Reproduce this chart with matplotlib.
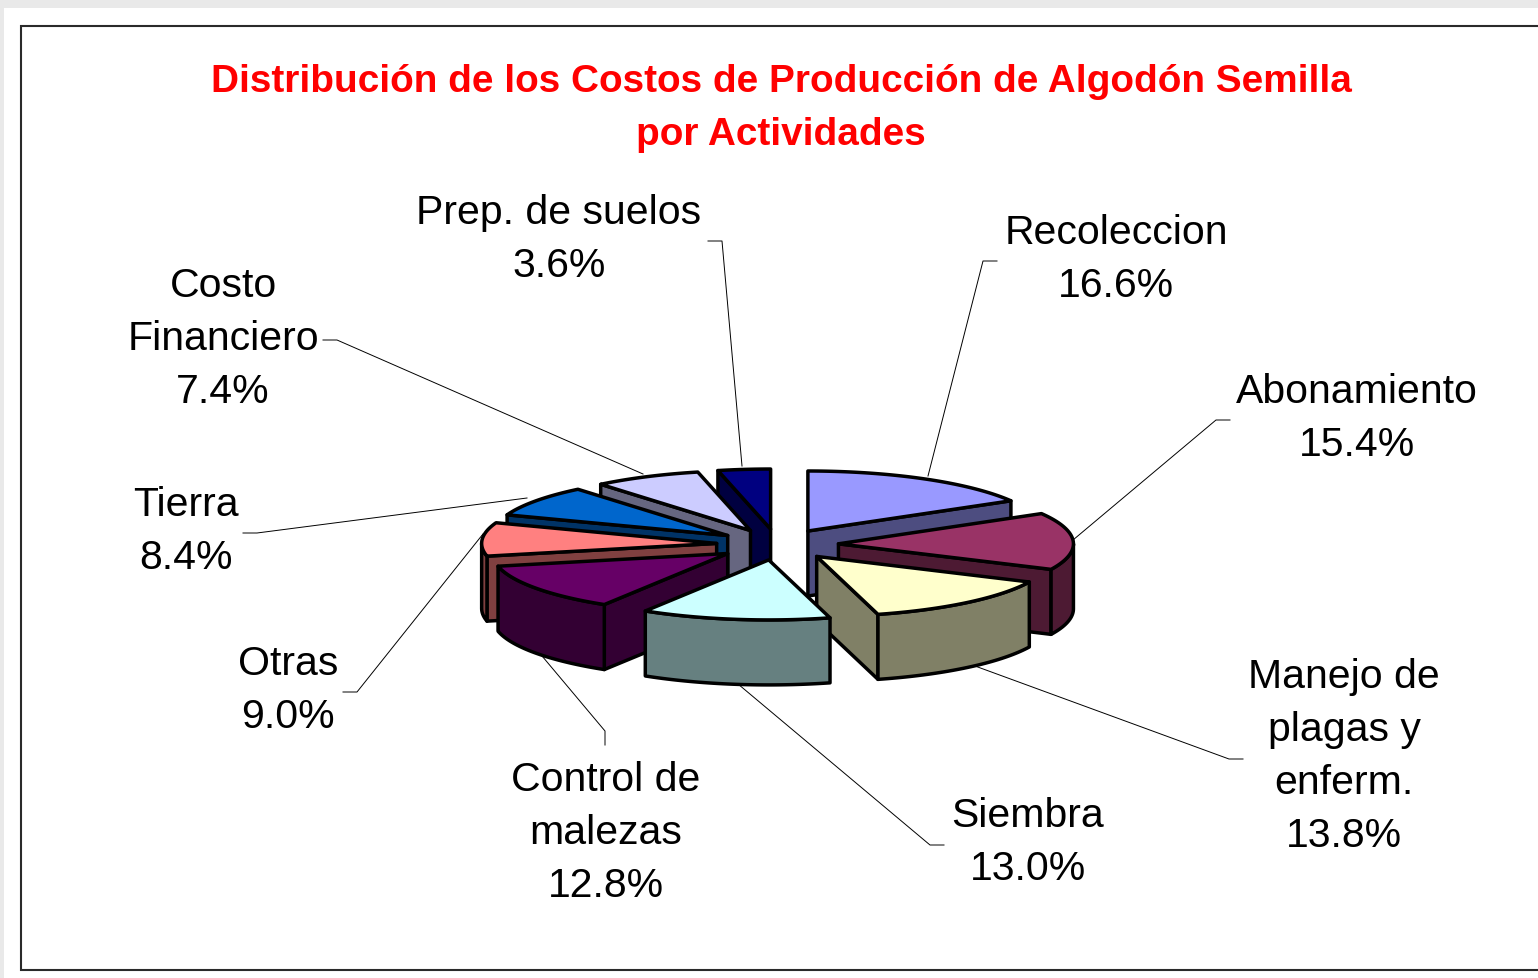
import numpy as np
import matplotlib
matplotlib.use("Agg")
import matplotlib.pyplot as plt
from matplotlib.patches import Polygon, Rectangle

# ---- data ----
names = ["Recoleccion", "Abonamiento", "Manejo de\nplagas y\nenferm.", "Siembra",
         "Control de\nmalezas", "Otras", "Tierra", "Costo\nFinanciero", "Prep. de suelos"]
values = [16.6, 15.4, 13.8, 13.0, 12.8, 9.0, 8.4, 7.4, 3.6]
title_lines = ["Distribución de los Costos de Producción de Algodón Semilla", "por Actividades"]

# ---- style ----
top_colors = ["#9999FF", "#993366", "#FFFFCC", "#CCFFFF", "#660066", "#FF8080", "#0066CC", "#CCCCFF", "#000080"]
side_colors = ["#4D4D80", "#4D1A33", "#808066", "#668080", "#330033", "#804040", "#003366", "#666680", "#000040"]

# ---- layout (pixels) ----
CX, CY, RX, RY, DEPTH, EXPLODE = 777.5, 545.5, 235, 60, 65, 61
label_pos = [(1116, 233), (1357, 392), (1344, 677), (1028, 816), (606, 780), (288, 664), (186, 505), (223, 286), (559, 213)]
leaders = [
    [(997, 262), (983, 262), (928, 477)],
    [(1230, 421), (1216, 421), (1073, 541)],
    [(1243, 760), (1229, 760), (975, 667)],
    [(944, 846), (930, 846), (738, 685)],
    [(605, 746), (605, 732), (537, 651)],
    [(343, 693), (357, 693), (483, 535)],
    [(243, 534), (257, 534), (527, 499)],
    [(323, 341), (337, 341), (643, 475)],
    [(708, 242), (722, 242), (742, 467)],
]
LINE_STEP = 53

plt.rcParams["font.family"] = ["Liberation Sans", "DejaVu Sans"]
fig = plt.figure(figsize=(15.38, 9.79), dpi=100, facecolor="white")
ax = fig.add_axes([0, 0, 1, 1])
ax.set_xlim(0, 1538)
ax.set_ylim(979, 0)
ax.axis("off")

# page and frame
ax.add_patch(Rectangle((0, 0), 1538, 9, fc="#E9E9E9", ec="none", zorder=0))
ax.add_patch(Rectangle((0, 0), 4, 979, fc="#E9E9E9", ec="none", zorder=0))
ax.plot([1538, 21, 21, 1538], [26.5, 26.5, 970.5, 970.5], color="#2A2A2A", lw=1.5, zorder=1,
        solid_joinstyle="miter")

# title
for i, line in enumerate(title_lines):
    ax.text(781, 82 + i * LINE_STEP, line, color="#FF0000", fontsize=27.9, fontweight="bold",
            ha="center", va="center", zorder=5)

# pie geometry derived from values
vals = np.array(values, dtype=float)
edges = np.concatenate([[0], np.cumsum(vals)]) / vals.sum() * 2 * np.pi


def arc(ox, oy, a, b, drop=0.0):
    t = np.linspace(a, b, max(2, int(abs(b - a) / 0.02)))
    return np.column_stack([ox + RX * np.sin(t), oy - RY * np.cos(t) + drop])


mids = (edges[:-1] + edges[1:]) / 2
order = np.argsort(-np.cos(mids))
z = 10
EDGE = dict(edgecolor="black", linewidth=2.5, joinstyle="round")
for i in order:
    a, b, m = edges[i], edges[i + 1], mids[i]
    ox = CX + EXPLODE * np.sin(m)
    oy = CY - EXPLODE * RY / RX * np.cos(m)
    # radial walls facing the viewer
    for ang, vis in ((a, np.sin(a) < -1e-6), (b, np.sin(b) > 1e-6)):
        if vis:
            p = arc(ox, oy, ang, ang)[0]
            ax.add_patch(Polygon([(ox, oy), p, (p[0], p[1] + DEPTH), (ox, oy + DEPTH)],
                                 closed=True, facecolor=side_colors[i], zorder=z, **EDGE))
            z += 1
    # outer wall (front half only)
    lo, hi = max(a, np.pi / 2), min(b, 3 * np.pi / 2)
    if hi > lo:
        up = arc(ox, oy, lo, hi)
        dn = arc(ox, oy, lo, hi, DEPTH)[::-1]
        ax.add_patch(Polygon(np.vstack([up, dn]), closed=True, facecolor=side_colors[i], zorder=z, **EDGE))
        z += 1
    # top face
    ax.add_patch(Polygon(np.vstack([[(ox, oy)], arc(ox, oy, a, b)]), closed=True,
                         facecolor=top_colors[i], zorder=z, **EDGE))
    z += 1

# leaders and labels
for name, v, (lx, ly), pts in zip(names, values, label_pos, leaders):
    xs, ys = zip(*pts)
    ax.plot(xs, ys, color="black", lw=0.7, zorder=3)
    for j, line in enumerate(name.split("\n") + [f"{v:.1f}%"]):
        ax.text(lx, ly + j * LINE_STEP, line, fontsize=29.5, color="black",
                ha="center", va="center", zorder=200)

fig.savefig("out.png", dpi=100)
